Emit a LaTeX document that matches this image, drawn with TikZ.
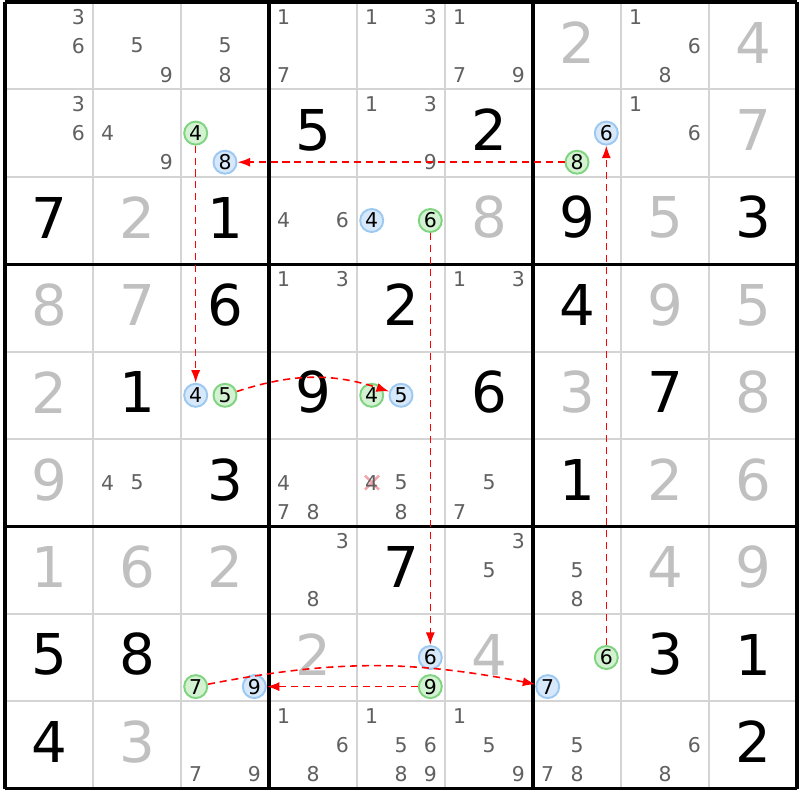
\documentclass[tikz,border=0pt]{standalone}
\usepackage{fontspec}
\setmainfont{DejaVu Sans}
\usetikzlibrary{arrows.meta}

\definecolor{candgray}{HTML}{606060}
\definecolor{solvgray}{HTML}{C0C0C0}
\definecolor{linegray}{HTML}{D4D4D4}
\definecolor{greenfill}{HTML}{D2F2D2}
\definecolor{greendraw}{HTML}{80D480}
\definecolor{bluefill}{HTML}{D6E8FA}
\definecolor{bluedraw}{HTML}{9CC8F2}
\definecolor{strikepink}{HTML}{F4A4AC}

\tikzset{
  cand/.style={text=candgray,font=\fontsize{5.8}{6}\selectfont,inner sep=0pt},
  given/.style={font=\fontsize{16}{18}\selectfont,inner sep=0pt},
  solved/.style={given,text=solvgray},
  greenring/.style={circle,draw=greendraw,fill=greenfill,line width=0.55pt,
    minimum size=0.23cm,inner sep=0pt,font=\fontsize{5.8}{6}\selectfont},
  bluering/.style={greenring,draw=bluedraw,fill=bluefill},
  linkarrow/.style={red,dash pattern=on 2pt off 1.4pt,line width=0.45pt,
    -{Latex[length=3.6pt,width=2.6pt]}},
}

% small pencil marks: row, column, list of digits
\newcommand{\cands}[3]{%
  \foreach \d in {#3} {
    \pgfmathsetmacro\cx{5+88*#2+14.7+29.3*mod(\d-1,3)}
    \pgfmathsetmacro\cy{-(2+87.4*#1+14.6+29.1*floor((\d-1)/3))}
    \node[cand] (r#1c#2d\d) at (\cx,\cy) {\d};
  }}
% circled pencil mark: style, row, column, digit
\newcommand{\ring}[4]{%
  \pgfmathsetmacro\cx{5+88*#3+14.7+29.3*mod(#4-1,3)}
  \pgfmathsetmacro\cy{-(2+87.4*#2+14.6+29.1*floor((#4-1)/3))}
  \node[#1] (r#2c#3d#4) at (\cx,\cy) {#4};}

\begin{document}
\begin{tikzpicture}[x=0.01cm,y=0.01cm]
\useasboundingbox[fill=white] (0,0) rectangle (800,-800);

% grid
\foreach \i in {0,...,9} {
  \draw[linegray,line width=0.57pt] ({5+88*\i},-2) -- ({5+88*\i},-788.6);
  \draw[linegray,line width=0.57pt] (5,{-2-87.4*\i}) -- (797,{-2-87.4*\i});
}
\foreach \i in {0,3,6,9} {
  \draw[line width=0.94pt] ({5+88*\i},-2) -- ({5+88*\i},-788.6);
  \draw[line width=0.94pt] (5,{-2-87.4*\i}) -- (797,{-2-87.4*\i});
}

% big digits
\foreach \r/\c/\d in {1/3/5,1/5/2,2/0/7,2/2/1,2/6/9,2/8/3,3/2/6,3/4/2,3/6/4,
    4/1/1,4/3/9,4/5/6,4/7/7,5/2/3,5/6/1,6/4/7,7/0/5,7/1/8,7/7/3,7/8/1,8/0/4,8/8/2}
  \node[given] (g\r\c) at ({5+88*\c+44},{-(2+87.4*\r+40.7)}) {\d};
\foreach \r/\c/\d in {0/6/2,0/8/4,1/8/7,2/1/2,2/5/8,2/7/5,3/0/8,3/1/7,3/7/9,3/8/5,
    4/0/2,4/6/3,4/8/8,5/0/9,5/7/2,5/8/6,6/0/1,6/1/6,6/2/2,6/7/4,6/8/9,
    7/3/2,7/5/4,8/1/3}
  \node[solved] (g\r\c) at ({5+88*\c+44},{-(2+87.4*\r+40.7)}) {\d};

% struck candidate
\coordinate (strike) at (372,-482.7);
\draw[strikepink,line width=0.7pt] ([shift={(-7,7)}]strike) -- ([shift={(7,-7)}]strike);
\draw[strikepink,line width=0.7pt] ([shift={(-7,-7)}]strike) -- ([shift={(7,7)}]strike);

% pencil marks
\cands{0}{0}{3,6} \cands{0}{1}{5,9} \cands{0}{2}{5,8} \cands{0}{3}{1,7}
\cands{0}{4}{1,3} \cands{0}{5}{1,7,9} \cands{0}{7}{1,6,8}
\cands{1}{0}{3,6} \cands{1}{1}{4,9} \cands{1}{4}{1,3,9} \cands{1}{7}{1,6}
\cands{2}{3}{4,6}
\cands{3}{3}{1,3} \cands{3}{5}{1,3}
\cands{5}{1}{4,5} \cands{5}{3}{4,7,8} \cands{5}{4}{4,5,8} \cands{5}{5}{5,7}
\cands{6}{3}{3,8} \cands{6}{5}{3,5} \cands{6}{6}{5,8}
\cands{8}{2}{7,9} \cands{8}{3}{1,6,8} \cands{8}{4}{1,5,6,8,9}
\cands{8}{5}{1,5,9} \cands{8}{6}{5,7,8} \cands{8}{7}{6,8}

% chain
\ring{greenring}{1}{2}{4} \ring{bluering}{1}{2}{8}
\ring{bluering}{1}{6}{6} \ring{greenring}{1}{6}{8}
\ring{bluering}{2}{4}{4} \ring{greenring}{2}{4}{6}
\ring{bluering}{4}{2}{4} \ring{greenring}{4}{2}{5}
\ring{greenring}{4}{4}{4} \ring{bluering}{4}{4}{5}
\ring{greenring}{7}{2}{7} \ring{bluering}{7}{2}{9}
\ring{bluering}{7}{4}{6} \ring{greenring}{7}{4}{9}
\ring{bluering}{7}{6}{7} \ring{greenring}{7}{6}{6}

\draw[linkarrow] (r1c6d8) -- (r1c2d8);
\draw[linkarrow] (r1c2d4) -- (r4c2d4);
\draw[linkarrow] (r4c2d5) to[bend left=18] (r4c4d5);
\draw[linkarrow] (r2c4d6) -- (r7c4d6);
\draw[linkarrow] (r7c4d9) -- (r7c2d9);
\draw[linkarrow] (r7c2d7) to[bend left=11] (r7c6d7);
\draw[linkarrow] (r7c6d6) -- (r1c6d6);
\end{tikzpicture}
\end{document}
